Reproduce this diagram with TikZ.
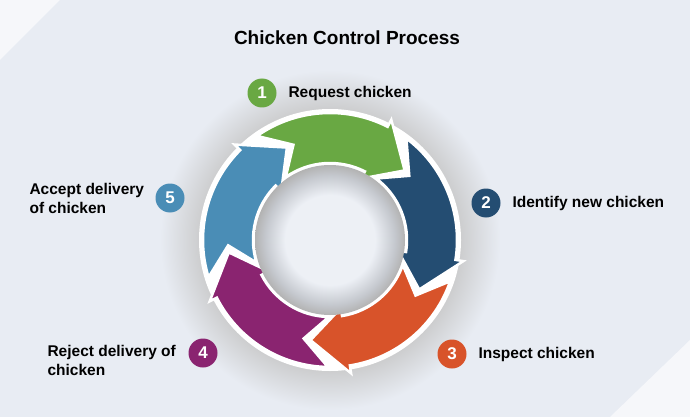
\documentclass[tikz,border=0pt]{standalone}
\usepackage{fontspec}
\setmainfont{Liberation Sans}
\definecolor{bg}{HTML}{E8ECF3}
\pgfdeclareradialshading{innershade}{\pgfpoint{0bp}{0bp}}{color(0bp)=(bg!80!white); color(15bp)=(bg!80!white); color(21.5bp)=(bg!85!black); color(25bp)=(black!30); color(50bp)=(black!30)}
\pgfdeclareradialshading{outershade}{\pgfpoint{0bp}{0bp}}{color(0bp)=(black!25); color(18bp)=(black!22); color(25bp)=(bg); color(50bp)=(bg)}
\begin{document}
\begin{tikzpicture}[x=1pt,y=1pt,
  lbl/.style={font=\bfseries\fontsize{15.5}{19}\selectfont,text=black,align=left},
  num/.style={circle,minimum size=29pt,inner sep=0pt,text=white,font=\bfseries\fontsize{17}{17}\selectfont}]
\definecolor{cA}{HTML}{69A843}
\definecolor{cB}{HTML}{244D72}
\definecolor{cC}{HTML}{D8532A}
\definecolor{cD}{HTML}{8A2470}
\definecolor{cE}{HTML}{4A8DB6}
\fill[bg] (0,0) rectangle (690,-417);
\useasboundingbox (0,0) rectangle (690,-417);
\fill[white!60!bg] (0,-60) -- (60,0) -- (0,0) -- cycle;
\fill[white!60!bg] (690,-340) -- (610,-417) -- (690,-417) -- cycle;
\coordinate (c) at (330,-240);
\shade[shading=outershade] (c) circle (170);
\fill[white] (c) circle (131);
\def\R{127}\def\r{77}\def\m{102}
\foreach \t/\col in {125/cA,53/cB,-19/cC,-91/cD,-163/cE}{
  \filldraw[fill=\col,draw=white,line width=2.5pt,line join=miter]
    ([shift={(\t:\R)}]c) arc[start angle=\t,end angle=\t-62,radius=\R]
    -- ([shift={(\t-62:\R+8)}]c) -- ([shift={(\t-82:\m)}]c)
    -- ([shift={(\t-62:\r-8)}]c) -- ([shift={(\t-62:\r)}]c)
    arc[start angle=\t-62,end angle=\t,radius=\r]
    -- ([shift={(\t-14:\m)}]c) -- cycle;
}
\shade[shading=innershade] (c) circle (75);
\node[font=\bfseries\fontsize{19}{22}\selectfont] (title) at (347,-38) {Chicken Control Process};
\node[num,fill=cA] (n1) at (262,-93) {1};
\node[lbl,anchor=west] (t1) at (285,-93) {Request chicken};
\node[num,fill=cB] (n2) at (486,-203) {2};
\node[lbl,anchor=west] (t2) at (509,-203) {Identify new chicken};
\node[num,fill=cC] (n3) at (452,-354) {3};
\node[lbl,anchor=west] (t3) at (475,-354) {Inspect chicken};
\node[num,fill=cD] (n4) at (203,-353) {4};
\node[lbl,anchor=west] (t4) at (44,-360) {Reject delivery of\\chicken};
\node[num,fill=cE] (n5) at (170,-198) {5};
\node[lbl,anchor=west] (t5) at (26,-198) {Accept delivery\\of chicken};
\end{tikzpicture}
\end{document}
